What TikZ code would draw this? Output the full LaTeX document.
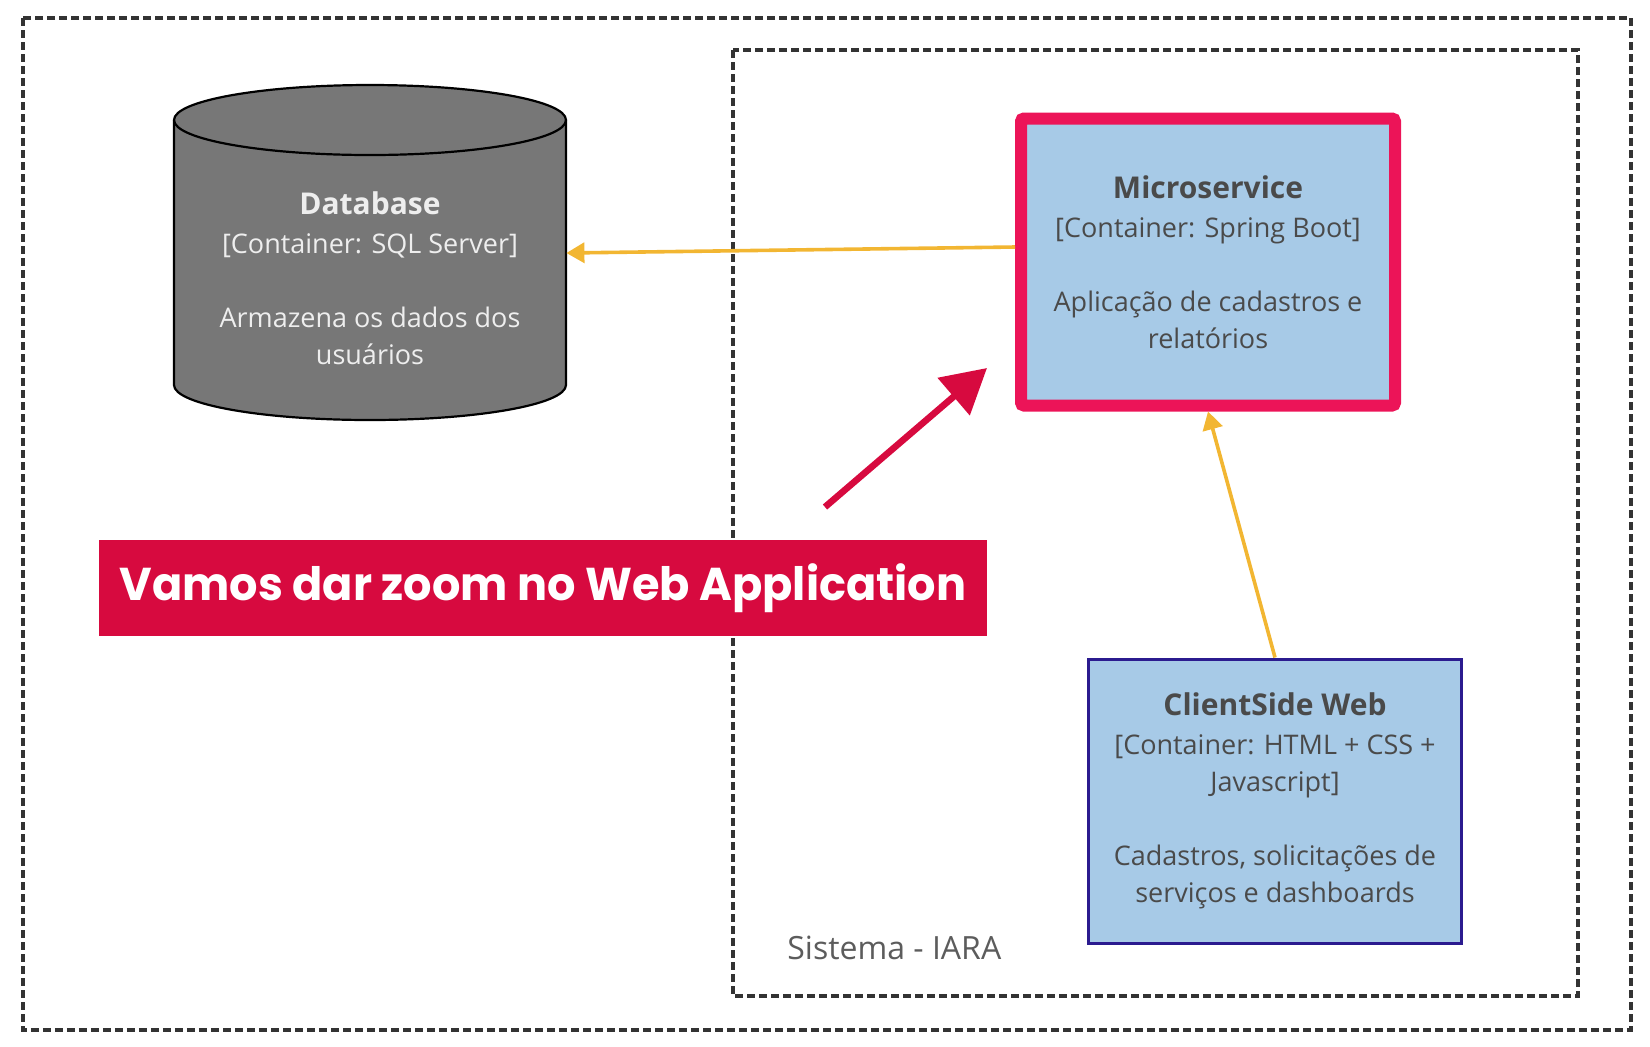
\documentclass[tikz,border=0pt]{standalone}
\usepackage{fontspec}
\setmainfont{Open Sans}
\newfontfamily\bannerfont{Poppins}
\usetikzlibrary{arrows.meta}
\definecolor{dashgray}{HTML}{333333}
\definecolor{dbgray}{HTML}{777777}
\definecolor{dbtext}{HTML}{EEEEEE}
\definecolor{boxblue}{HTML}{A7CAE7}
\definecolor{boxtext}{HTML}{4A4A4A}
\definecolor{mspink}{HTML}{EC1458}
\definecolor{csnavy}{HTML}{2B1B8F}
\definecolor{flowyellow}{HTML}{F2B632}
\definecolor{crimson}{HTML}{D70A3F}
\newcommand{\boxtitle}[1]{{\fontsize{15}{18.5}\selectfont\bfseries #1}}
\begin{document}
\begin{tikzpicture}[x=0.5pt,y=-0.5pt,
  boundary/.style={draw=dashgray,line width=1.6pt,dash pattern=on 4pt off 2pt},
  container/.style={align=center,text=boxtext,inner sep=0pt,
    font=\fontsize{13.5}{18.5}\selectfont},
  flow/.style={draw=flowyellow,line width=1.8pt,-{Triangle[length=9pt,width=10pt]}},
  pointer/.style={draw=crimson,line width=3.3pt,-{Triangle[length=22pt,width=24pt]}}]
\useasboundingbox (0,0) rectangle (1650,1046);
%boundaries
\draw[boundary] (23,18) rectangle (1631,1030);
\draw[boundary] (733,50) rectangle (1578,996);
\node[anchor=west,inner sep=0pt,text=boxtext!90,font=\fontsize{16}{18}\selectfont] (syslbl) at (787,948) {Sistema - IARA};
%database
\filldraw[fill=dbgray,draw=black,line width=1.1pt] (174,120) -- (174,385)
  arc[start angle=180,end angle=360,x radius=98pt,y radius=17.5pt] -- (566,120)
  arc[start angle=0,end angle=180,x radius=98pt,y radius=17.5pt] -- cycle;
\draw[line width=1.1pt] (174,120) arc[start angle=180,end angle=360,x radius=98pt,y radius=17.5pt];
\node[container,text=dbtext,minimum width=196pt,minimum height=140pt] (db) at (370,278)
  {\boxtitle{Database}\\[1pt][Container: SQL Server]\\[18.5pt]Armazena os dados dos\\usuários};
%containers
\node[container,fill=boxblue,draw=mspink,line width=6pt,rounded corners=1.5pt,
  minimum width=187pt,minimum height=143.5pt] (ms) at (1208,262)
  {\boxtitle{Microservice}\\[1pt][Container: Spring Boot]\\[18.5pt]Aplicação de cadastros e\\relatórios};
\node[container,fill=boxblue,draw=csnavy,line width=1.5pt,
  minimum width=186.5pt,minimum height=142pt] (cs) at (1275,801)
  {\boxtitle{ClientSide Web}\\[1pt][Container: HTML + CSS +\\Javascript]\\[18.5pt]Cadastros, solicitações de\\serviços e dashboards};
%flows
\draw[flow] ([yshift=7.5pt]ms.west) -- ([yshift=12.5pt]db.east);
\draw[flow] (cs.north) -- (ms.south);
%banner
\node[fill=crimson,text=white,minimum width=444pt,minimum height=48pt,inner sep=0pt,
  font=\bannerfont\bfseries\fontsize{23}{26}\selectfont] (banner) at (543,588)
  {\raisebox{-1.5pt}{\scalebox{0.97}[1]{Vamos dar zoom no Web Application}}};
\coordinate (ptail) at (825,507);
\coordinate (phead) at (987,368);
\draw[pointer] (ptail) -- (phead);
\end{tikzpicture}
\end{document}
